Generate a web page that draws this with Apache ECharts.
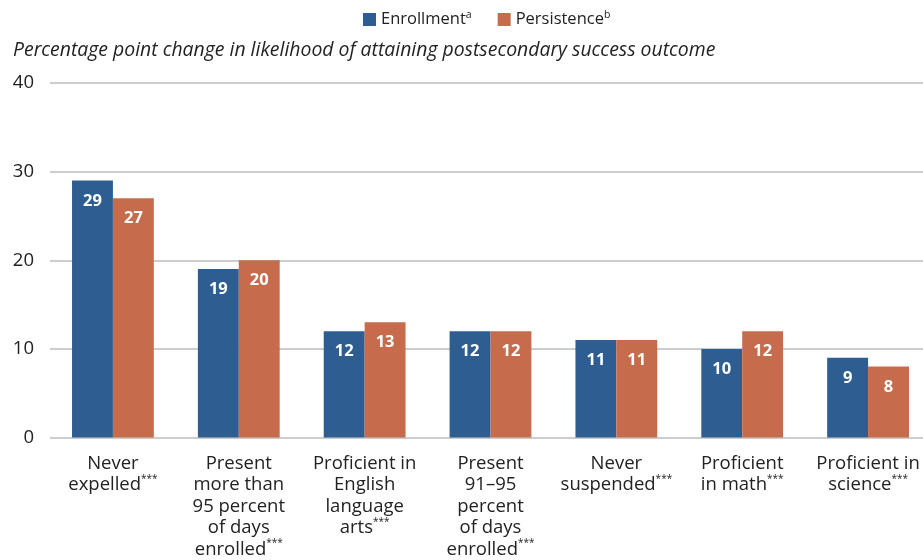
<!DOCTYPE html>
<html><head><meta charset="utf-8">
<script src="https://cdn.jsdelivr.net/npm/echarts@6/dist/echarts.min.js"></script>
<style>html,body{margin:0;padding:0;background:#fff;overflow:hidden;width:923px;height:560px}#c{width:931px;height:560px}</style>
</head><body><div id="c"></div>
<script>
const categories = ["Never\nexpelled{s|***}", "Present\nmore than\n95 percent\nof days\nenrolled{s|***}", "Proficient in\nEnglish\nlanguage\narts{s|***}", "Present\n91–95\npercent\nof days\nenrolled{s|***}", "Never\nsuspended{s|***}", "Proficient\nin math{s|***}", "Proficient in\nscience{s|***}"];
const enrollment = [29, 19, 12, 12, 11, 10, 9];
const persistence = [27, 20, 13, 12, 11, 12, 8];
const yTicks = [0, 10, 20, 30, 40];
const FONT = "'Open Sans', 'Noto Sans', sans-serif";
const chart = echarts.init(document.getElementById('c'));
const lblRich = {s: {fontSize: 10, verticalAlign: 'top', color: '#222', padding: [0,0,9,0], fontFamily: FONT}};
chart.setOption({
  animation: false,
  textStyle: {fontFamily: FONT},
  title: {text: 'Percentage point change in likelihood of attaining postsecondary success outcome', left: 8, top: 36,
    textStyle: {fontStyle: 'italic', fontWeight: 'normal', fontSize: 19.4, color: '#222', fontFamily: FONT}},
  legend: {top: 5, left: 358, itemWidth: 13, itemHeight: 13, itemGap: 26, icon: 'rect',
    data: ['Enrollment', 'Persistence'],
    formatter: n => n === 'Enrollment' ? 'Enrollment{sup|a}' : 'Persistence{sup|b}',
    textStyle: {fontSize: 16.5, color: '#222', fontFamily: FONT, rich: {sup: {fontSize: 10.5, verticalAlign: 'top', padding: [0,0,8,0], color: '#222', fontFamily: FONT}}}},
  grid: {left: 50, right: 0, top: 83, bottom: 120},
  xAxis: {type: 'category', data: categories,
    axisLine: {show: false}, axisTick: {show: false},
    axisLabel: {interval: 0, fontSize: 18.5, color: '#222', lineHeight: 21.5, margin: 15, fontFamily: FONT, rich: lblRich}},
  yAxis: {type: 'value', min: 0, max: 40, interval: 10,
    axisLine: {show: false}, axisTick: {show: false},
    axisLabel: {fontSize: 18.5, color: '#222', margin: 16, fontFamily: FONT, formatter: v => yTicks.includes(v) ? String(v) : ''},
    splitLine: {lineStyle: {color: '#bdbdbd', width: 1.5}}},
  series: [
    {name: 'Enrollment', type: 'bar', data: enrollment,
      barGap: '0%', barCategoryGap: '35%', itemStyle: {color: '#2E5E91'},
      label: {show: true, position: 'insideTop', distance: 12, color: '#fff', fontWeight: 'bold', fontSize: 16.5, fontFamily: FONT}},
    {name: 'Persistence', type: 'bar', data: persistence,
      barGap: '0%', barCategoryGap: '35%', itemStyle: {color: '#C66C4D'},
      label: {show: true, position: 'insideTop', distance: 12, color: '#fff', fontWeight: 'bold', fontSize: 16.5, fontFamily: FONT}}
  ]
});
</script></body></html>
